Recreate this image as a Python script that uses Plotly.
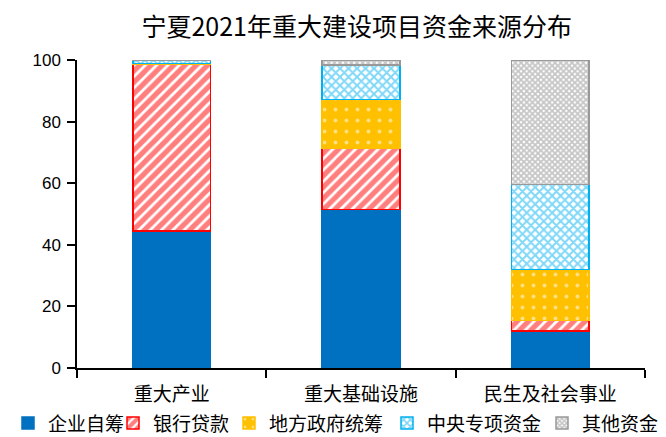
import plotly.graph_objects as go

categories = ["重大产业", "重大基础设施", "民生及社会事业"]
series_names = ["企业自筹", "银行贷款", "地方政府统筹", "中央专项资金", "其他资金"]
qiye = [44.5, 51.5, 12.0]
yinhang = [54.0, 20.0, 3.5]
difang = [0.3, 15.7, 16.5]
zhongyang = [1.0, 11.2, 27.5]
qita = [0.2, 1.6, 40.5]
y_ticks = [0, 20, 40, 60, 80, 100]

values = [qiye, yinhang, difang, zhongyang, qita]
colors = ["#0070C0", "#FF0000", "#FFC000", "#00B0F0", "#999999"]
patterns = [
    dict(shape=""),
    dict(shape="/", fgcolor="#FF0000", bgcolor="white", size=8, solidity=0.65),
    dict(shape=".", fgcolor="white", bgcolor="#FFC000", size=11, solidity=0.1),
    dict(shape="x", fgcolor="#00B0F0", bgcolor="white", size=6, solidity=0.55),
    dict(shape="x", fgcolor="#8C8C8C", bgcolor="white", size=4, solidity=0.7),
]

# page is offset 8px by the default body margin; figure sized to fit window
W, H = 658, 429
legend_px = [-9, 105, 221, 379, 534]
legend_ids = ["legend", "legend2", "legend3", "legend4", "legend5"]

fig = go.Figure()
for name, vals, c, p, lid in zip(series_names, values, colors, patterns, legend_ids):
    fig.add_trace(go.Bar(
        name=name, x=categories, y=vals,
        marker=dict(color=c, pattern=p, line=dict(color=c, width=1.5)),
        width=0.41, legend=lid, showlegend=True,
    ))

legend_layout = {}
for lid, px in zip(legend_ids, legend_px):
    legend_layout[lid] = dict(
        orientation="h", xref="container", yref="container",
        x=px / W, xanchor="left", y=0.032, yanchor="middle",
        font=dict(family="Noto Sans CJK SC", size=19, color="black"),
        bgcolor="rgba(0,0,0,0)", itemwidth=30,
    )

fig.update_layout(
    barmode="stack",
    showlegend=True,
    width=W, height=H,
    margin=dict(l=69, r=21, t=52, b=69, autoexpand=False),
    paper_bgcolor="white", plot_bgcolor="white",
    title=dict(text="宁夏2021年重大建设项目资金来源分布", x=0.530, xanchor="center",
               xref="container", yref="container",
               y=0.955, yanchor="middle",
               font=dict(family="Noto Sans CJK SC", size=25, color="black")),
    font=dict(family="Liberation Sans", color="black"),
    **legend_layout,
)
fig.update_yaxes(range=[0, 100], tickvals=y_ticks, showgrid=False, zeroline=False,
                 showline=True, linecolor="black", linewidth=1.5,
                 ticks="outside", ticklen=8, tickcolor="black", tickwidth=1.5,
                 ticklabelstandoff=3,
                 tickfont=dict(family="Liberation Sans", size=17, color="black"))
fig.update_xaxes(showline=True, linecolor="black", linewidth=1.5,
                 ticks="outside", tickson="boundaries", ticklen=8, tickcolor="black",
                 tickwidth=1.5, ticklabelstandoff=8,
                 tickfont=dict(family="Noto Sans CJK SC", size=19, color="black"))

fig.write_html("out.html")
